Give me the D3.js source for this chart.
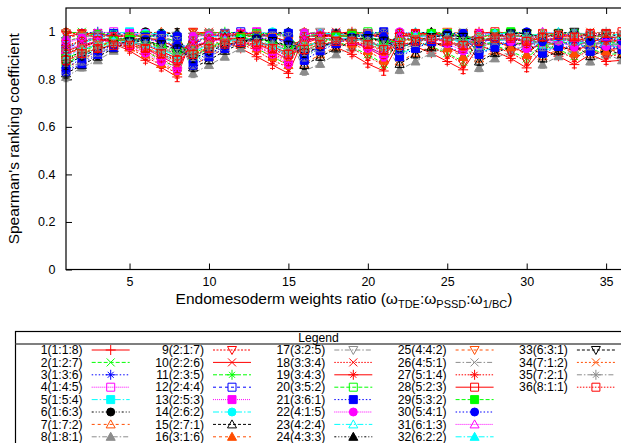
<!DOCTYPE html>
<html>
<head>
<meta charset="utf-8">
<script src="https://cdn.jsdelivr.net/npm/d3@7"></script>
<style>
  body { margin: 0; background: #fff; }
  svg { display: block; font-family: "Liberation Sans", Arial, Helvetica, sans-serif; }
</style>
</head>
<body>
<svg id="chart" width="621" height="443"></svg>
<script>
// ---- donnees ----

// ratios de poids (wTDE:wPSSD:w1/BC), un par serie et un par abscisse
const ratios = ["1:1:8","1:2:7","1:3:6","1:4:5","1:5:4","1:6:3","1:7:2","1:8:1",
  "2:1:7","2:2:6","2:3:5","2:4:4","2:5:3","2:6:2","2:7:1",
  "3:1:6","3:2:5","3:3:4","3:4:3","3:5:2","3:6:1",
  "4:1:5","4:2:4","4:3:3","4:4:2","4:5:1",
  "5:1:4","5:2:3","5:3:2","5:4:1",
  "6:1:3","6:2:2","6:3:1",
  "7:1:2","7:2:1",
  "8:1:1"];

const xTicks = [5, 10, 15, 20, 25, 30, 35];
const yTicks = [0, 0.2, 0.4, 0.6, 0.8, 1];

// coefficient de Spearman moyen : rho[serie][abscisse] (estimé à l'oeil)
const rho = [
  [1,.993,.975,.95,.92,.88,.85,.81,.993,.98,.958,.93,.895,.86,.825,.978,.96,.935,.905,.865,.835,.96,.938,.91,.875,.84,.943,.918,.888,.848,.925,.897,.862,.905,.875,.88],
  [.993,1,.993,.975,.95,.92,.88,.85,.993,.993,.98,.958,.93,.895,.86,.985,.978,.96,.935,.905,.865,.973,.96,.938,.91,.875,.961,.943,.918,.888,.947,.925,.897,.93,.905,.908],
  [.975,.993,1,.993,.975,.95,.92,.88,.98,.993,.993,.98,.958,.93,.895,.978,.985,.978,.96,.935,.905,.973,.973,.96,.938,.91,.968,.961,.943,.918,.96,.947,.925,.948,.93,.93],
  [.95,.975,.993,1,.993,.975,.95,.92,.958,.98,.993,.993,.98,.958,.93,.96,.978,.985,.978,.96,.935,.96,.973,.973,.96,.938,.961,.968,.961,.943,.96,.96,.947,.955,.948,.943],
  [.92,.95,.975,.993,1,.993,.975,.95,.93,.958,.98,.993,.993,.98,.958,.935,.96,.978,.985,.978,.96,.938,.96,.973,.973,.96,.943,.961,.968,.961,.947,.96,.96,.948,.955,.943],
  [.88,.92,.95,.975,.993,1,.993,.975,.895,.93,.958,.98,.993,.993,.98,.905,.935,.96,.978,.985,.978,.91,.938,.96,.973,.973,.918,.943,.961,.968,.925,.947,.96,.93,.948,.93],
  [.85,.88,.92,.95,.975,.993,1,.993,.86,.895,.93,.958,.98,.993,.993,.865,.905,.935,.96,.978,.985,.875,.91,.938,.96,.973,.888,.918,.943,.961,.897,.925,.947,.905,.93,.908],
  [.81,.85,.88,.92,.95,.975,.993,1,.825,.86,.895,.93,.958,.98,.993,.835,.865,.905,.935,.96,.978,.84,.875,.91,.938,.96,.848,.888,.918,.943,.862,.897,.925,.875,.905,.88],
  [.993,.993,.98,.958,.93,.895,.86,.825,1,.993,.975,.95,.92,.88,.85,.993,.98,.958,.93,.895,.86,.978,.96,.935,.905,.865,.96,.938,.91,.875,.943,.918,.888,.925,.897,.905],
  [.98,.993,.993,.98,.958,.93,.895,.86,.993,1,.993,.975,.95,.92,.88,.993,.993,.98,.958,.93,.895,.985,.978,.96,.935,.905,.973,.96,.938,.91,.961,.943,.918,.947,.925,.93],
  [.958,.98,.993,.993,.98,.958,.93,.895,.975,.993,1,.993,.975,.95,.92,.98,.993,.993,.98,.958,.93,.978,.985,.978,.96,.935,.973,.973,.96,.938,.968,.961,.943,.96,.947,.948],
  [.93,.958,.98,.993,.993,.98,.958,.93,.95,.975,.993,1,.993,.975,.95,.958,.98,.993,.993,.98,.958,.96,.978,.985,.978,.96,.96,.973,.973,.96,.961,.968,.961,.96,.96,.955],
  [.895,.93,.958,.98,.993,.993,.98,.958,.92,.95,.975,.993,1,.993,.975,.93,.958,.98,.993,.993,.98,.935,.96,.978,.985,.978,.938,.96,.973,.973,.943,.961,.968,.947,.96,.948],
  [.86,.895,.93,.958,.98,.993,.993,.98,.88,.92,.95,.975,.993,1,.993,.895,.93,.958,.98,.993,.993,.905,.935,.96,.978,.985,.91,.938,.96,.973,.918,.943,.961,.925,.947,.93],
  [.825,.86,.895,.93,.958,.98,.993,.993,.85,.88,.92,.95,.975,.993,1,.86,.895,.93,.958,.98,.993,.865,.905,.935,.96,.978,.875,.91,.938,.96,.888,.918,.943,.897,.925,.905],
  [.978,.985,.978,.96,.935,.905,.865,.835,.993,.993,.98,.958,.93,.895,.86,1,.993,.975,.95,.92,.88,.993,.98,.958,.93,.895,.978,.96,.935,.905,.96,.938,.91,.943,.918,.925],
  [.96,.978,.985,.978,.96,.935,.905,.865,.98,.993,.993,.98,.958,.93,.895,.993,1,.993,.975,.95,.92,.993,.993,.98,.958,.93,.985,.978,.96,.935,.973,.96,.938,.961,.943,.947],
  [.935,.96,.978,.985,.978,.96,.935,.905,.958,.98,.993,.993,.98,.958,.93,.975,.993,1,.993,.975,.95,.98,.993,.993,.98,.958,.978,.985,.978,.96,.973,.973,.96,.968,.961,.96],
  [.905,.935,.96,.978,.985,.978,.96,.935,.93,.958,.98,.993,.993,.98,.958,.95,.975,.993,1,.993,.975,.958,.98,.993,.993,.98,.96,.978,.985,.978,.96,.973,.973,.961,.968,.96],
  [.865,.905,.935,.96,.978,.985,.978,.96,.895,.93,.958,.98,.993,.993,.98,.92,.95,.975,.993,1,.993,.93,.958,.98,.993,.993,.935,.96,.978,.985,.938,.96,.973,.943,.961,.947],
  [.835,.865,.905,.935,.96,.978,.985,.978,.86,.895,.93,.958,.98,.993,.993,.88,.92,.95,.975,.993,1,.895,.93,.958,.98,.993,.905,.935,.96,.978,.91,.938,.96,.918,.943,.925],
  [.96,.973,.973,.96,.938,.91,.875,.84,.978,.985,.978,.96,.935,.905,.865,.993,.993,.98,.958,.93,.895,1,.993,.975,.95,.92,.993,.98,.958,.93,.978,.96,.935,.96,.938,.943],
  [.938,.96,.973,.973,.96,.938,.91,.875,.96,.978,.985,.978,.96,.935,.905,.98,.993,.993,.98,.958,.93,.993,1,.993,.975,.95,.993,.993,.98,.958,.985,.978,.96,.973,.96,.961],
  [.91,.938,.96,.973,.973,.96,.938,.91,.935,.96,.978,.985,.978,.96,.935,.958,.98,.993,.993,.98,.958,.975,.993,1,.993,.975,.98,.993,.993,.98,.978,.985,.978,.973,.973,.968],
  [.875,.91,.938,.96,.973,.973,.96,.938,.905,.935,.96,.978,.985,.978,.96,.93,.958,.98,.993,.993,.98,.95,.975,.993,1,.993,.958,.98,.993,.993,.96,.978,.985,.96,.973,.961],
  [.84,.875,.91,.938,.96,.973,.973,.96,.865,.905,.935,.96,.978,.985,.978,.895,.93,.958,.98,.993,.993,.92,.95,.975,.993,1,.93,.958,.98,.993,.935,.96,.978,.938,.96,.943],
  [.943,.961,.968,.961,.943,.918,.888,.848,.96,.973,.973,.96,.938,.91,.875,.978,.985,.978,.96,.935,.905,.993,.993,.98,.958,.93,1,.993,.975,.95,.993,.98,.958,.978,.96,.96],
  [.918,.943,.961,.968,.961,.943,.918,.888,.938,.96,.973,.973,.96,.938,.91,.96,.978,.985,.978,.96,.935,.98,.993,.993,.98,.958,.993,1,.993,.975,.993,.993,.98,.985,.978,.973],
  [.888,.918,.943,.961,.968,.961,.943,.918,.91,.938,.96,.973,.973,.96,.938,.935,.96,.978,.985,.978,.96,.958,.98,.993,.993,.98,.975,.993,1,.993,.98,.993,.993,.978,.985,.973],
  [.848,.888,.918,.943,.961,.968,.961,.943,.875,.91,.938,.96,.973,.973,.96,.905,.935,.96,.978,.985,.978,.93,.958,.98,.993,.993,.95,.975,.993,1,.958,.98,.993,.96,.978,.96],
  [.925,.947,.96,.96,.947,.925,.897,.862,.943,.961,.968,.961,.943,.918,.888,.96,.973,.973,.96,.938,.91,.978,.985,.978,.96,.935,.993,.993,.98,.958,1,.993,.975,.993,.98,.978],
  [.897,.925,.947,.96,.96,.947,.925,.897,.918,.943,.961,.968,.961,.943,.918,.938,.96,.973,.973,.96,.938,.96,.978,.985,.978,.96,.98,.993,.993,.98,.993,1,.993,.993,.993,.985],
  [.862,.897,.925,.947,.96,.96,.947,.925,.888,.918,.943,.961,.968,.961,.943,.91,.938,.96,.973,.973,.96,.935,.96,.978,.985,.978,.958,.98,.993,.993,.975,.993,1,.98,.993,.978],
  [.905,.93,.948,.955,.948,.93,.905,.875,.925,.947,.96,.96,.947,.925,.897,.943,.961,.968,.961,.943,.918,.96,.973,.973,.96,.938,.978,.985,.978,.96,.993,.993,.98,1,.993,.993],
  [.875,.905,.93,.948,.955,.948,.93,.905,.897,.925,.947,.96,.96,.947,.925,.918,.943,.961,.968,.961,.943,.938,.96,.973,.973,.96,.96,.978,.985,.978,.98,.993,.993,.993,1,.993],
  [.88,.908,.93,.943,.943,.93,.908,.88,.905,.93,.948,.955,.948,.93,.905,.925,.947,.96,.96,.947,.925,.943,.961,.968,.961,.943,.96,.973,.973,.96,.978,.985,.978,.993,.993,1]
];

// demi-largeur des barres d'erreur, par abscisse
const errAtX = [.02,.015,.012,.01,.01,.012,.015,.02,.018,.014,.01,.01,.01,.014,.018,
  .018,.014,.01,.01,.014,.018,.016,.012,.01,.012,.016,.016,.01,.01,.016,.015,.01,.014,.014,.012,.012];

// ---- styles gnuplot (couleur / pointillé / symbole) ----
const palette = ["#ff0000","#00ff00","#0000ff","#ff00ff","#00ffff","#000000","#ff4d00","#8c8c8c","#ff0000"];
const dashes = ["", "4,2", "1.5,2", "1,1", "6,2,1.5,2", "2,2,1,2,1,2", "3,3", "5,2,1.5,2", "2,1.5",
  "", "4,2", "3,3", "1,1", "6,2,1.5,2", "3,2", "3,3", "5,2,1.5,2", "1.5,1.5",
  "", "4,2", "1.5,2", "1,1", "6,2,1.5,2", "2,2,1,2,1,2", "3,3", "5,2,1.5,2", "1.5,1.5",
  "", "4,2", "1.5,2", "1,1", "6,2,1.5,2", "3,2", "2,2", "5,2,1.5,2", "1.5,1.5"];
const symCycle = ["cross","star","square","squareF","circleF","tri","triF","triD"];

function colorOf(i){ return palette[i % 9]; }
function symOf(i){ return i === 0 ? "plus" : symCycle[(i - 1) % 8]; }

// chemin de chaque symbole, centré en 0,0
function symPath(t){
  let s = 4;
  switch(t){
    case "plus": return `M${-s-1},0H${s+1}M0,${-s-1}V${s+1}`;
    case "cross": return `M${-s},${-s}L${s},${s}M${-s},${s}L${s},${-s}`;
    case "star": return `M${-s-1},0H${s+1}M0,${-s-1}V${s+1}M${-s+1},${-s+1}L${s-1},${s-1}M${-s+1},${s-1}L${s-1},${-s+1}`;
    case "square": case "squareF": return `M${-s},${-s}H${s}V${s}H${-s}Z`;
    case "circleF": return d3.symbol(d3.symbolCircle, Math.PI * s * s)();
    case "tri": case "triF": return `M0,${-s-0.5}L${s+0.5},${s-0.5}H${-s-0.5}Z`;
    case "triD": return `M0,${s+0.5}L${s+0.5},${-s+0.5}H${-s-0.5}Z`;
  }
}
function isFilled(t){ return t.endsWith("F"); }

function drawSymbol(g, t, cx, cy, color){
  g.append("path")
    .attr("d", symPath(t))
    .attr("transform", `translate(${cx},${cy})`)
    .attr("fill", isFilled(t) ? color : "none")
    .attr("stroke", color)
    .attr("stroke-width", 1);
}

// ---- dessin ----
let svg = d3.select("#chart");
svg.append("rect").attr("width", 621).attr("height", 443).attr("fill", "#fff");

let plotL = 66, plotR = 622, plotT = 8, plotB = 269.5;
let x = d3.scaleLinear().domain([1, 36]).range([plotL, plotR]);
let y = d3.scaleLinear().domain([0, 1.1]).range([plotB, plotT]);

// axes, ticks vers l'interieur comme gnuplot
svg.append("g")
  .attr("transform", `translate(0,${plotB})`)
  .call(d3.axisBottom(x).tickValues(xTicks).tickSizeInner(-6).tickSizeOuter(0).tickPadding(8));
svg.append("g")
  .attr("transform", `translate(0,${plotT})`)
  .call(d3.axisTop(x).tickValues(xTicks).tickSizeInner(-6).tickSizeOuter(0).tickFormat(""));
svg.append("g")
  .attr("transform", `translate(${plotL},0)`)
  .call(d3.axisLeft(y).tickValues(yTicks).tickSizeInner(-6).tickSizeOuter(0).tickPadding(10.5)
    .tickFormat(d => String(+d.toFixed(1))));
svg.selectAll(".domain").remove();
svg.selectAll(".tick line").attr("stroke", "#000");
svg.selectAll(".tick text").attr("font-size", 12.5).attr("fill", "#000")
  .attr("font-family", "'Liberation Sans', Arial, sans-serif");

// series
let plot = svg.append("g");
let line = d3.line().x((d, j) => x(j + 1)).y(d => y(d));

rho.forEach((vals, i) => {
  let c = colorOf(i);
  let g = plot.append("g");
  g.append("path")
    .attr("d", line(vals))
    .attr("fill", "none")
    .attr("stroke", c)
    .attr("stroke-width", 1)
    .attr("stroke-dasharray", dashes[i] || null);
  vals.forEach((v, j) => {
    let e = v >= 1 ? 0 : errAtX[j];
    if (e > 0) {
      let px = x(j + 1);
      g.append("path")
        .attr("d", `M${px},${y(v - e)}V${y(v + e)}M${px - 2.5},${y(v - e)}h5M${px - 2.5},${y(v + e)}h5`)
        .attr("stroke", c).attr("stroke-width", 1).attr("fill", "none");
    }
  });
  vals.forEach((v, j) => drawSymbol(g, symOf(i), x(j + 1), y(v), c));
});

// cadre
svg.append("rect")
  .attr("x", plotL).attr("y", plotT)
  .attr("width", plotR - plotL).attr("height", plotB - plotT)
  .attr("fill", "none").attr("stroke", "#000").attr("stroke-width", 1.2);

// titres d'axes
svg.append("text")
  .attr("transform", `translate(14,${(plotT + plotB) / 2}) rotate(-90)`)
  .attr("text-anchor", "middle").attr("dy", "0.35em")
  .attr("font-size", 15.5)
  .text("Spearman's ranking coefficient");

let xl = svg.append("text")
  .attr("x", (plotL + plotR) / 2).attr("y", 304)
  .attr("text-anchor", "middle").attr("font-size", 15.5);
xl.append("tspan").text("Endomesoderm weights ratio (ω");
xl.append("tspan").attr("font-size", 11).attr("dy", 4).text("TDE");
xl.append("tspan").attr("dy", -4).text(":ω");
xl.append("tspan").attr("font-size", 11).attr("dy", 4).text("PSSD");
xl.append("tspan").attr("dy", -4).text(":ω");
xl.append("tspan").attr("font-size", 11).attr("dy", 4).text("1/BC");
xl.append("tspan").attr("dy", -4).text(")");

// ---- legende ----
let leg = svg.append("g").attr("font-size", 12.2);
leg.append("rect")
  .attr("x", 15.5).attr("y", 331.5).attr("width", 620).attr("height", 140)
  .attr("fill", "#fff").attr("stroke", "#000").attr("stroke-width", 1.2);
leg.append("line")
  .attr("x1", 15.5).attr("x2", 640).attr("y1", 344).attr("y2", 344)
  .attr("stroke", "#555").attr("stroke-width", 1.6);
leg.append("text")
  .attr("x", 318.5).attr("y", 342.3).attr("text-anchor", "middle")
  .text("Legend");

ratios.forEach((r, i) => {
  let col = Math.floor(i / 8), row = i % 8;
  let xr = 82.7 + col * 121.3;
  let cy = 350 + row * 12.4;
  let c = colorOf(i);
  leg.append("text")
    .attr("x", xr).attr("y", cy).attr("dy", "0.35em")
    .attr("text-anchor", "end")
    .text(`${i + 1}(${r})`);
  leg.append("line")
    .attr("x1", xr + 9).attr("x2", xr + 47).attr("y1", cy).attr("y2", cy)
    .attr("stroke", c).attr("stroke-width", 1)
    .attr("stroke-dasharray", dashes[i] || null);
  drawSymbol(leg, symOf(i), xr + 28, cy, c);
});
</script>
</body>
</html>
